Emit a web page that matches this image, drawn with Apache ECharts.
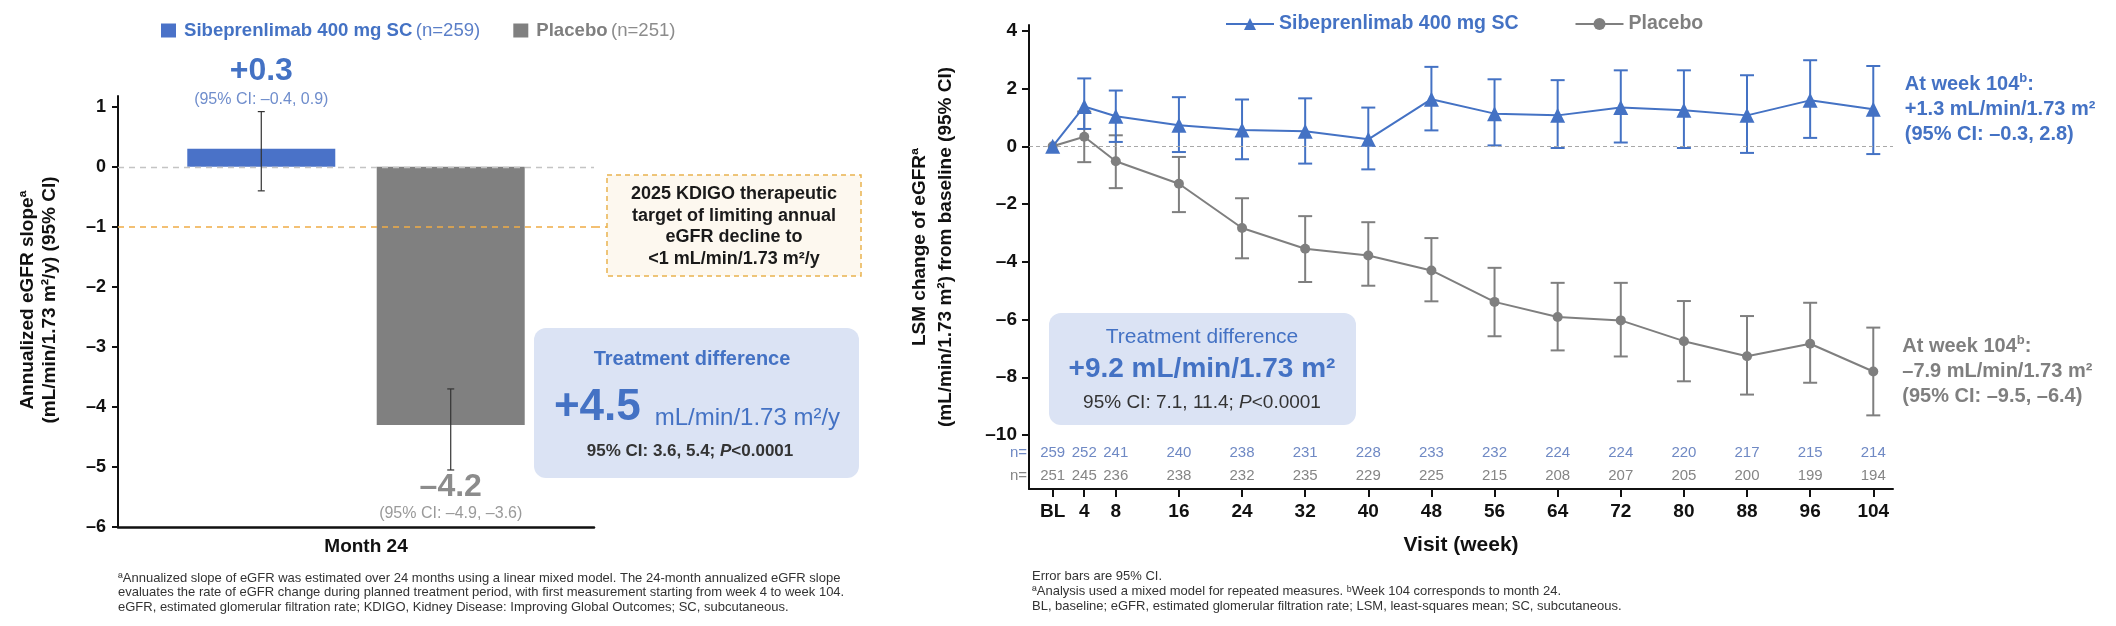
<!DOCTYPE html>
<html>
<head>
<meta charset="utf-8">
<script src="https://cdn.jsdelivr.net/npm/echarts@6/dist/echarts.min.js"></script>
<style>
html,body{margin:0;padding:0;background:#fff;}
#chart{width:2116px;height:626px;}
</style>
</head>
<body>
<div id="chart"></div>
<script>
// ---------- Left panel data ----------
const leftCategories = ['Month 24'];
const armNames = ['Sibeprenlimab 400 mg SC', 'Placebo'];
const armN = ['(n=259)', '(n=251)'];
const slopeValues = [0.3, -4.3];
const slopeLow = [-0.4, -5.05];
const slopeHigh = [0.92, -3.7];
const slopeLabels = ['+0.3', '\u20134.2'];
const slopeCILabels = ['(95% CI: \u20130.4, 0.9)', '(95% CI: \u20134.9, \u20133.6)'];
const leftTicks = [-6, -5, -4, -3, -2, -1, 0, 1];
const kdigoTarget = -1;
const kdigoText = ['2025 KDIGO therapeutic', 'target of limiting annual', 'eGFR decline to', '<1 mL/min/1.73 m\u00b2/y'];
const leftDiff = ['Treatment difference', '+4.5', 'mL/min/1.73 m\u00b2/y', '95% CI: 3.6, 5.4; ', 'P', '<0.0001'];

// ---------- Right panel data ----------
const weeks = [0, 4, 8, 16, 24, 32, 40, 48, 56, 64, 72, 80, 88, 96, 104];
const weekLabels = ['BL', '4', '8', '16', '24', '32', '40', '48', '56', '64', '72', '80', '88', '96', '104'];
const sibMean = [0, 1.38, 1.04, 0.73, 0.56, 0.52, 0.24, 1.63, 1.13, 1.07, 1.34, 1.25, 1.07, 1.59, 1.28];
const sibLow  = [null, 0.6, 0.15, -0.2, -0.45, -0.6, -0.8, 0.55, 0.03, -0.06, 0.13, -0.06, -0.23, 0.29, -0.27];
const sibHigh = [null, 2.35, 1.93, 1.7, 1.62, 1.66, 1.34, 2.75, 2.32, 2.29, 2.63, 2.63, 2.46, 2.98, 2.78];
const pboMean = [0, 0.33, -0.52, -1.3, -2.83, -3.55, -3.78, -4.3, -5.39, -5.91, -6.03, -6.75, -7.27, -6.84, -7.8];
const pboLow  = [null, -0.55, -1.45, -2.28, -3.88, -4.7, -4.83, -5.37, -6.58, -7.07, -7.28, -8.14, -8.6, -8.19, -9.32];
const pboHigh = [null, 1.2, 0.38, -0.37, -1.8, -2.42, -2.63, -3.18, -4.21, -4.73, -4.73, -5.36, -5.88, -5.42, -6.28];
const sibN = [259, 252, 241, 240, 238, 231, 228, 233, 232, 224, 224, 220, 217, 215, 214];
const pboN = [251, 245, 236, 238, 232, 235, 229, 225, 215, 208, 207, 205, 200, 199, 194];
const rightTicks = [-10, -8, -6, -4, -2, 0, 2, 4];
const sibEnd = ['At week 104', 'b', ':', '+1.3 mL/min/1.73 m\u00b2', '(95% CI: \u20130.3, 2.8)'];
const pboEnd = ['At week 104', 'b', ':', '\u20137.9 mL/min/1.73 m\u00b2', '(95% CI: \u20139.5, \u20136.4)'];
const rightDiff = ['Treatment difference', '+9.2 mL/min/1.73 m\u00b2', '95% CI: 7.1, 11.4; ', 'P', '<0.0001'];

// ---------- Text ----------
const leftYTitle = 'Annualized eGFR slope\u00aa\n(mL/min/1.73 m\u00b2/y) (95% CI)';
const rightYTitle = 'LSM change of eGFR\u00aa\n(mL/min/1.73 m\u00b2) from baseline (95% CI)';
const rightXTitle = 'Visit (week)';
const leftNotes = [
  '\u00aaAnnualized slope of eGFR was estimated over 24 months using a linear mixed model. The 24-month annualized eGFR slope',
  'evaluates the rate of eGFR change during planned treatment period, with first measurement starting from week 4 to week 104.',
  'eGFR, estimated glomerular filtration rate; KDIGO, Kidney Disease: Improving Global Outcomes; SC, subcutaneous.'
];
const rightNotes = [
  'Error bars are 95% CI.',
  '\u00aaAnalysis used a mixed model for repeated measures. \u1d47Week 104 corresponds to month 24.',
  'BL, baseline; eGFR, estimated glomerular filtration rate; LSM, least-squares mean; SC, subcutaneous.'
];

const FONT = '"Liberation Sans", Arial, Helvetica, sans-serif';
const BLUE = '#4472c4';
const BAR_BLUE = '#4a72c8';
const GRAY = '#7f7f7f';
const BAR_GRAY = '#808080';
const BLACK = '#111';
const BAR_W = 148;
const BAR_GAP_RATIO = 0.28;

const fmtTick = v => (v < 0 ? '\u2013' + Math.abs(v) : String(v));
const barLegendNames = armNames.map((a, i) => a + ' ' + armN[i]);

function barErr(side, idx) {
  return function (params, api) {
    const off = side * (BAR_W + BAR_W * BAR_GAP_RATIO) / 2;
    const c = api.value(0);
    const cx = api.coord([c, 0])[0] + off;
    const yl = api.coord([c, api.value(1)])[1];
    const yh = api.coord([c, api.value(2)])[1];
    const ls = { stroke: '#333', lineWidth: 1.2 };
    const big = idx === 0 ? BLUE : '#8c8c8c';
    const small = idx === 0 ? '#6f8dcc' : '#9a9a9a';
    const ty1 = idx === 0 ? yh - 40 : yl + 17;
    const ty2 = idx === 0 ? yh - 12 : yl + 44;
    return {
      type: 'group',
      children: [
        { type: 'line', shape: { x1: cx, y1: yl, x2: cx, y2: yh }, style: ls },
        { type: 'line', shape: { x1: cx - 3.5, y1: yl, x2: cx + 3.5, y2: yl }, style: ls },
        { type: 'line', shape: { x1: cx - 3.5, y1: yh, x2: cx + 3.5, y2: yh }, style: ls },
        { type: 'text', style: { text: slopeLabels[idx], x: cx, y: ty1, align: 'center', verticalAlign: 'middle', fontSize: 32, fontWeight: 'bold', fontFamily: FONT, fill: big } },
        { type: 'text', style: { text: slopeCILabels[idx], x: cx, y: ty2, align: 'center', verticalAlign: 'middle', fontSize: 16, fontFamily: FONT, fill: small } }
      ]
    };
  };
}

function lineErr(color) {
  return function (params, api) {
    const w = api.value(0);
    const p1 = api.coord([w, api.value(1)]);
    const p2 = api.coord([w, api.value(2)]);
    const ls = { stroke: color, lineWidth: 2 };
    return {
      type: 'group',
      children: [
        { type: 'line', shape: { x1: p1[0], y1: p1[1], x2: p2[0], y2: p2[1] }, style: ls },
        { type: 'line', shape: { x1: p1[0] - 7, y1: p1[1], x2: p1[0] + 7, y2: p1[1] }, style: ls },
        { type: 'line', shape: { x1: p2[0] - 7, y1: p2[1], x2: p2[0] + 7, y2: p2[1] }, style: ls }
      ]
    };
  };
}

const errData = (low, high) => weeks.map((w, i) => [w, low[i], high[i]]).filter(d => d[1] !== null);

function endLabel(lines, color) {
  return {
    show: true,
    position: 'right',
    distance: 24,
    formatter: p => p.dataIndex === weeks.length - 1
      ? '{t|' + lines[0] + '}{s|' + lines[1] + '}{t|' + lines[2] + '}\n{t|' + lines[3] + '}\n{t|' + lines[4] + '}'
      : '',
    rich: {
      t: { fontSize: 20, fontWeight: 'bold', color: color, fontFamily: FONT, lineHeight: 25 },
      s: { fontSize: 13, fontWeight: 'bold', color: color, fontFamily: FONT, lineHeight: 25, verticalAlign: 'top', padding: [0, 0, 6, 0] }
    }
  };
}

const chart = echarts.init(document.getElementById('chart'), null, { renderer: 'canvas' });

const option = {
  animation: false,
  backgroundColor: '#fff',
  textStyle: { fontFamily: FONT },
  grid: [
    { left: 118, top: 96, width: 476, height: 431 },
    { left: 1029, top: 25, width: 864, height: 464 }
  ],
  legend: [
    {
      left: 156, top: 16, itemWidth: 15, itemHeight: 14, itemGap: 33, icon: 'rect',
      data: barLegendNames,
      selectedMode: false,
      formatter: name => {
        const i = barLegendNames.indexOf(name);
        return '{b' + i + '|' + armNames[i] + '} {n' + i + '|' + armN[i] + '}';
      },
      textStyle: {
        fontFamily: FONT,
        padding: [0, 0, 0, 3],
        rich: {
          b0: { fontSize: 18.6, fontWeight: 'bold', color: BLUE, fontFamily: FONT },
          n0: { fontSize: 18.6, color: '#5b7fc8', fontFamily: FONT },
          b1: { fontSize: 18.6, fontWeight: 'bold', color: '#7f7f7f', fontFamily: FONT },
          n1: { fontSize: 18.6, color: '#8c8c8c', fontFamily: FONT }
        }
      }
    },
    {
      left: 1220, top: 9, itemWidth: 48, itemHeight: 15, itemGap: 56,
      selectedMode: false,
      data: [
        { name: armNames[0], textStyle: { color: BLUE } },
        { name: armNames[1], textStyle: { color: GRAY } }
      ],
      textStyle: { fontSize: 19.5, fontWeight: 'bold', fontFamily: FONT }
    }
  ],
  xAxis: [
    {
      gridIndex: 0, type: 'category', data: leftCategories,
      axisLine: { onZero: false, lineStyle: { color: BLACK, width: 2.5 } },
      axisTick: { show: false },
      axisLabel: { color: BLACK, fontWeight: 'bold', fontSize: 19, margin: 10, fontFamily: FONT, padding: [0, 0, 0, 20] },
      splitLine: { show: false }
    },
    {
      gridIndex: 1, type: 'value', min: -3, max: 106.5,
      axisLine: { onZero: false, lineStyle: { color: BLACK, width: 2 } },
      axisTick: { show: true, customValues: weeks, length: 8, lineStyle: { color: BLACK, width: 2 } },
      axisLabel: {
        customValues: weeks,
        formatter: v => weekLabels[weeks.indexOf(v)],
        color: BLACK, fontWeight: 'bold', fontSize: 19, margin: 13, fontFamily: FONT
      },
      splitLine: { show: false }
    }
  ],
  yAxis: [
    {
      gridIndex: 0, type: 'value', min: -6, max: 1.18,
      axisLine: { show: true, onZero: false, lineStyle: { color: BLACK, width: 2 } },
      axisTick: { show: true, customValues: leftTicks, length: 6, lineStyle: { color: BLACK, width: 2 } },
      axisLabel: { customValues: leftTicks, formatter: fmtTick, color: BLACK, fontWeight: 'bold', fontSize: 18, margin: 12, fontFamily: FONT },
      splitLine: { show: false }
    },
    {
      gridIndex: 1, type: 'value', min: -11.87, max: 4.2,
      axisLine: { show: true, onZero: false, lineStyle: { color: BLACK, width: 2 } },
      axisTick: { show: true, customValues: rightTicks, length: 7, lineStyle: { color: BLACK, width: 2 } },
      axisLabel: { customValues: rightTicks, formatter: fmtTick, color: BLACK, fontWeight: 'bold', fontSize: 19, margin: 12, fontFamily: FONT },
      splitLine: { show: false }
    }
  ],
  series: [
    {
      type: 'line', xAxisIndex: 0, yAxisIndex: 0, data: [], z: 1, silent: true,
      markLine: {
        silent: true, symbol: 'none', label: { show: false }, animation: false,
        data: [
          { yAxis: 0, lineStyle: { color: '#c4c4c4', type: [6, 5], width: 1.4 } },
          { yAxis: kdigoTarget, lineStyle: { color: '#efac45', type: [6, 5], width: 1.6 } }
        ]
      }
    },
    {
      type: 'bar', name: barLegendNames[0], xAxisIndex: 0, yAxisIndex: 0,
      data: [slopeValues[0]], barWidth: BAR_W, barGap: (BAR_GAP_RATIO * 100) + '%',
      itemStyle: { color: BAR_BLUE }, z: 3, silent: true
    },
    {
      type: 'bar', name: barLegendNames[1], xAxisIndex: 0, yAxisIndex: 0,
      data: [slopeValues[1]], barWidth: BAR_W, barGap: (BAR_GAP_RATIO * 100) + '%',
      itemStyle: { color: BAR_GRAY }, z: 3, silent: true
    },
    {
      type: 'custom', xAxisIndex: 0, yAxisIndex: 0, z: 6, silent: true, clip: false,
      data: [[0, slopeLow[0], slopeHigh[0]]], renderItem: barErr(-1, 0)
    },
    {
      type: 'custom', xAxisIndex: 0, yAxisIndex: 0, z: 6, silent: true, clip: false,
      data: [[0, slopeLow[1], slopeHigh[1]]], renderItem: barErr(1, 1)
    },
    {
      type: 'line', xAxisIndex: 1, yAxisIndex: 1, data: [], z: 1, silent: true,
      markLine: {
        silent: true, symbol: 'none', label: { show: false }, animation: false,
        data: [{ yAxis: 0, lineStyle: { color: '#a8a8a8', type: [4, 3], width: 1 } }]
      }
    },
    {
      type: 'custom', xAxisIndex: 1, yAxisIndex: 1, z: 2, silent: true, clip: false,
      data: errData(pboLow, pboHigh), renderItem: lineErr(GRAY)
    },
    {
      type: 'line', name: armNames[1], xAxisIndex: 1, yAxisIndex: 1, z: 3,
      data: weeks.map((w, i) => [w, pboMean[i]]),
      symbol: 'circle', symbolSize: 10,
      lineStyle: { color: GRAY, width: 2 }, itemStyle: { color: GRAY },
      label: endLabel(pboEnd, '#7f7f7f'),
      emphasis: { disabled: true }, silent: true
    },
    {
      type: 'custom', xAxisIndex: 1, yAxisIndex: 1, z: 4, silent: true, clip: false,
      data: errData(sibLow, sibHigh), renderItem: lineErr(BLUE)
    },
    {
      type: 'line', name: armNames[0], xAxisIndex: 1, yAxisIndex: 1, z: 5,
      data: weeks.map((w, i) => [w, sibMean[i]]),
      symbol: 'triangle', symbolSize: 15,
      lineStyle: { color: BLUE, width: 2 }, itemStyle: { color: BLUE },
      label: endLabel(sibEnd, BLUE),
      emphasis: { disabled: true }, silent: true
    },
    {
      type: 'custom', xAxisIndex: 1, yAxisIndex: 1, z: 6, silent: true, clip: false,
      data: weeks.map((w, i) => [w, sibN[i], pboN[i]]),
      renderItem: function (params, api) {
        const x = api.coord([api.value(0), 0])[0];
        const cs = params.coordSys;
        const base = cs.y + cs.height;
        return {
          type: 'group',
          children: [
            { type: 'text', style: { text: String(api.value(1)), x: x, y: base - 36, align: 'center', verticalAlign: 'middle', fontSize: 15, fontFamily: FONT, fill: '#6f89c4' } },
            { type: 'text', style: { text: String(api.value(2)), x: x, y: base - 13, align: 'center', verticalAlign: 'middle', fontSize: 15, fontFamily: FONT, fill: '#858585' } }
          ]
        };
      }
    }
  ],
  graphic: [
    { type: 'rect', shape: { x: 607, y: 175, width: 254, height: 101 }, style: { fill: '#fdf8ef', stroke: '#e9b24f', lineWidth: 1.5, lineDash: [5, 4] }, z: 10, silent: true },
    { type: 'line', shape: { x1: 594, y1: 227, x2: 607, y2: 227 }, style: { stroke: '#efac45', lineWidth: 1.6, lineDash: [6, 5] }, z: 9, silent: true },
    { type: 'text', x: 734, y: 226.5, z: 11, silent: true, style: { text: kdigoText.join('\n'), align: 'center', verticalAlign: 'middle', lineHeight: 21.7, fontSize: 18, fontWeight: 'bold', fontFamily: FONT, fill: '#1a1a1a' } },
    { type: 'rect', shape: { x: 534, y: 328, width: 325, height: 150, r: 12 }, style: { fill: '#dbe3f4' }, z: 10, silent: true },
    { type: 'text', x: 692, y: 359, z: 11, silent: true, style: { text: leftDiff[0], align: 'center', verticalAlign: 'middle', fontSize: 20, fontWeight: 'bold', fontFamily: FONT, fill: BLUE } },
    { type: 'text', x: 697, y: 407, z: 11, silent: true, style: {
        text: '{big|' + leftDiff[1] + '}{gap|}{unit|' + leftDiff[2] + '}', align: 'center', verticalAlign: 'middle',
        rich: {
          big: { fontSize: 44, fontWeight: 'bold', fontFamily: FONT, fill: BLUE, color: BLUE, verticalAlign: 'bottom', lineHeight: 46 },
          gap: { width: 14, lineHeight: 46 },
          unit: { fontSize: 24, fontFamily: FONT, fill: BLUE, color: BLUE, verticalAlign: 'bottom', lineHeight: 38 }
        } } },
    { type: 'text', x: 690, y: 451, z: 11, silent: true, style: {
        text: '{t|' + leftDiff[3] + '}{i|' + leftDiff[4] + '}{t|' + leftDiff[5] + '}', align: 'center', verticalAlign: 'middle',
        rich: {
          t: { fontSize: 17, fontWeight: 'bold', fontFamily: FONT, fill: '#333', color: '#333' },
          i: { fontSize: 17, fontWeight: 'bold', fontStyle: 'italic', fontFamily: FONT, fill: '#333', color: '#333' }
        } } },
    { type: 'rect', shape: { x: 1049, y: 313, width: 307, height: 112, r: 12 }, style: { fill: '#dbe3f4' }, z: 10, silent: true },
    { type: 'text', x: 1202, y: 337, z: 11, silent: true, style: { text: rightDiff[0], align: 'center', verticalAlign: 'middle', fontSize: 21, fontFamily: FONT, fill: BLUE } },
    { type: 'text', x: 1202, y: 369, z: 11, silent: true, style: { text: rightDiff[1], align: 'center', verticalAlign: 'middle', fontSize: 28, fontWeight: 'bold', fontFamily: FONT, fill: BLUE } },
    { type: 'text', x: 1202, y: 403, z: 11, silent: true, style: {
        text: '{t|' + rightDiff[2] + '}{i|' + rightDiff[3] + '}{t|' + rightDiff[4] + '}', align: 'center', verticalAlign: 'middle',
        rich: {
          t: { fontSize: 19, fontFamily: FONT, fill: '#333', color: '#333' },
          i: { fontSize: 19, fontStyle: 'italic', fontFamily: FONT, fill: '#333', color: '#333' }
        } } },
    { type: 'text', x: 39, y: 300, rotation: Math.PI / 2, silent: true, style: { text: leftYTitle, align: 'center', verticalAlign: 'middle', lineHeight: 22, fontSize: 19, fontWeight: 'bold', fontFamily: FONT, fill: BLACK } },
    { type: 'text', x: 933, y: 247, rotation: Math.PI / 2, silent: true, style: { text: rightYTitle, align: 'center', verticalAlign: 'middle', lineHeight: 26, fontSize: 19, fontWeight: 'bold', fontFamily: FONT, fill: BLACK } },
    { type: 'text', x: 1461, y: 545, silent: true, style: { text: rightXTitle, align: 'center', verticalAlign: 'middle', fontSize: 21, fontWeight: 'bold', fontFamily: FONT, fill: BLACK } },
    { type: 'text', x: 1027, y: 453, silent: true, style: { text: 'n=', align: 'right', verticalAlign: 'middle', fontSize: 15, fontFamily: FONT, fill: '#6f89c4' } },
    { type: 'text', x: 1027, y: 476, silent: true, style: { text: 'n=', align: 'right', verticalAlign: 'middle', fontSize: 15, fontFamily: FONT, fill: '#858585' } },
    { type: 'text', x: 118, y: 571, silent: true, style: { text: leftNotes.join('\n'), align: 'left', verticalAlign: 'top', lineHeight: 14.5, fontSize: 13, fontFamily: FONT, fill: '#333' } },
    { type: 'text', x: 1032, y: 569, silent: true, style: { text: rightNotes.join('\n'), align: 'left', verticalAlign: 'top', lineHeight: 15, fontSize: 13, fontFamily: FONT, fill: '#333' } }
  ]
};

chart.setOption(option);
</script>
</body>
</html>
